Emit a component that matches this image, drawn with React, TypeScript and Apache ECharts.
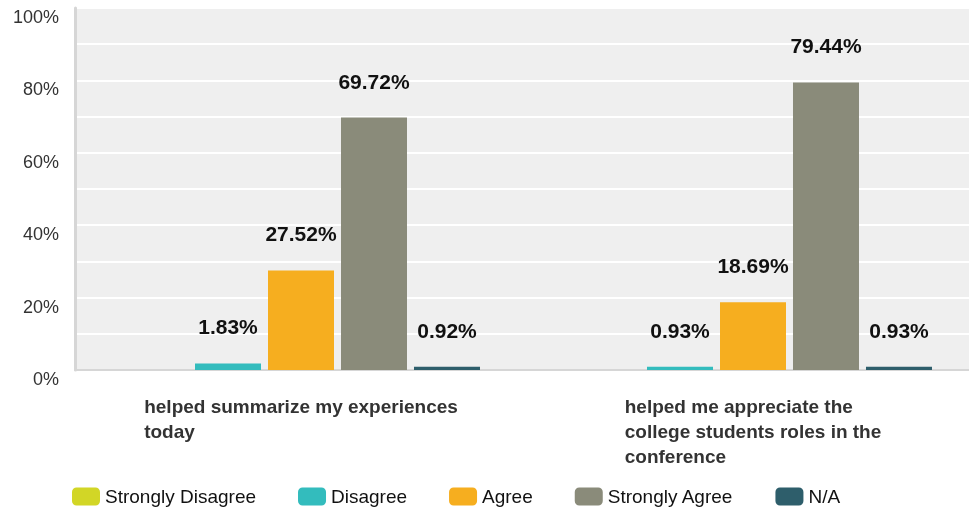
import React, { useEffect, useRef } from "react";
import * as echarts from "echarts";

const categories = [
  "helped summarize my experiences today",
  "helped me appreciate the college students roles in the conference",
];
const seriesNames = ["Strongly Disagree", "Disagree", "Agree", "Strongly Agree", "N/A"];
const stronglyDisagree = [0, 0];
const disagree = [1.83, 0.93];
const agree = [27.52, 18.69];
const stronglyAgree = [69.72, 79.44];
const na = [0.92, 0.93];
const colors = ["#d2d626", "#33bcbd", "#f6ae1f", "#8a8b7a", "#2e5e6b"];
const yTicks = [0, 20, 40, 60, 80, 100];

function wrap(text: string, max: number): string[] {
  const words = text.split(" ");
  const lines: string[] = [];
  let cur = "";
  for (const w of words) {
    const next = cur ? cur + " " + w : w;
    if (next.length > max && cur) {
      lines.push(cur);
      cur = w;
    } else cur = next;
  }
  if (cur) lines.push(cur);
  return lines;
}

export default function App() {
  const ref = useRef<HTMLDivElement>(null);
  useEffect(() => {
    if (!ref.current) return;
    const chart = echarts.init(ref.current, undefined, { renderer: "svg" });
    const values = [stronglyDisagree, disagree, agree, stronglyAgree, na];
    chart.setOption({
      animation: false,
      textStyle: { fontFamily: "Liberation Sans, Arial, sans-serif" },
      grid: {
        left: 75,
        right: 0,
        top: 8,
        bottom: 143,
        show: true,
        backgroundColor: "#efefef",
        borderWidth: 0,
      },
      legend: {
        left: 67,
        bottom: 2,
        itemWidth: 28,
        itemHeight: 18,
        itemGap: 42,
        icon: "roundRect",
        textStyle: { fontSize: 19, color: "#111" },
        data: seriesNames,
      },
      xAxis: {
        type: "category",
        data: categories,
        axisLine: { show: true, lineStyle: { color: "#d6d6d6", width: 2 } },
        axisTick: { show: false },
        axisLabel: {
          margin: 24,
          formatter: (v: string) =>
            wrap(v, 31)
              .map((l) => "{a|" + l + "}")
              .join("\n"),
          rich: {
            a: {
              align: "left",
              fontSize: 19,
              fontWeight: "bold",
              color: "#333",
              lineHeight: 25,
            },
          },
        },
      },
      yAxis: {
        type: "value",
        min: 0,
        max: 100,
        interval: 10,
        axisLine: { show: true, lineStyle: { color: "#d6d6d6", width: 3 } },
        axisTick: { show: false },
        splitLine: { show: true, lineStyle: { color: "#ffffff", width: 2 } },
        axisLabel: {
          interval: 1,
          margin: 16,
          fontSize: 18,
          color: "#333",
          verticalAlign: "top",
          formatter: (v: number) => (yTicks.includes(v) ? v + "%" : ""),
        },
      },
      series: seriesNames.map((name, i) => ({
        name,
        type: "bar",
        data: values[i],
        barGap: "10.6%",
        barCategoryGap: "20.8%",
        itemStyle: { color: colors[i] },
        label: {
          show: true,
          position: "top",
          distance: 26,
          fontSize: 21,
          fontWeight: "bold",
          color: "#111",
          formatter: (p: any) => (p.value ? p.value.toFixed(2) + "%" : ""),
        },
      })),
    });
    return () => chart.dispose();
  }, []);
  return (
    <div
      ref={ref}
      style={{ position: "fixed", left: 0, top: 0, width: 979, height: 513 }}
    />
  );
}
